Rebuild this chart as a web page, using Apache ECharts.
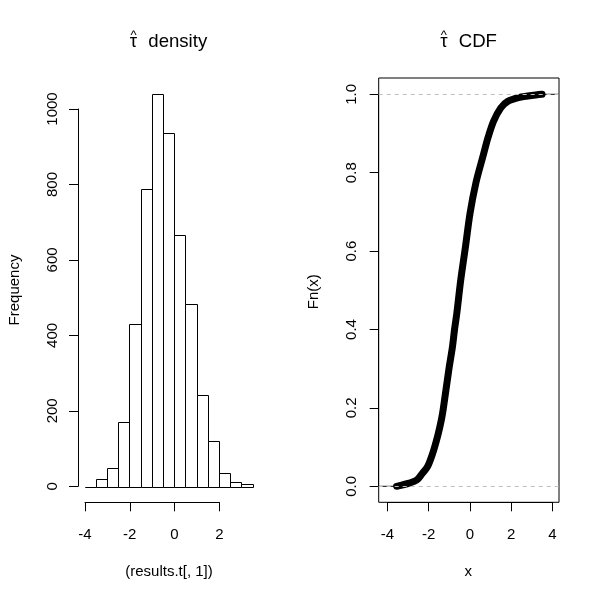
<!DOCTYPE html>
<html>
<head>
<meta charset="utf-8">
<script src="https://cdn.jsdelivr.net/npm/echarts@6/dist/echarts.min.js"></script>
<style>
html,body{margin:0;padding:0;background:#fff;}
#c{width:600px;height:600px;}
</style>
</head>
<body>
<div id="c"></div>
<script>
// ---- data ----
const histBreaks = [-4, -3.5, -3, -2.5, -2, -1.5, -1, -0.5, 0, 0.5, 1, 1.5, 2, 2.5, 3, 3.5];
const histCounts = [0, 19, 50, 170, 430, 790, 1040, 938, 668, 485, 242, 122, 37, 13, 8];

const ecdfX = [-3.55, -2.94, -2.57, -2.30, -2.05, -1.80, -1.55, -1.38, -1.28, -1.01, -0.84, -0.74, -0.63, -0.44, -0.21, 0.01, 0.30, 0.66, 0.88, 1.15, 1.50, 1.84, 2.41, 3.00, 3.50];
const ecdfF = [0.000, 0.008, 0.016, 0.033, 0.050, 0.084, 0.130, 0.169, 0.200, 0.300, 0.356, 0.400, 0.441, 0.526, 0.611, 0.696, 0.775, 0.846, 0.889, 0.931, 0.965, 0.982, 0.992, 0.997, 1.000];

const leftXTicks = [-4, -2, 0, 2];
const leftYTicks = [0, 200, 400, 600, 800, 1000];
const rightXTicks = [-4, -2, 0, 2, 4];
const rightYTicks = [0, 0.2, 0.4, 0.6, 0.8, 1.0];

const leftTitle = 'density';
const rightTitle = 'CDF';
const tauChar = 'τ';
const leftXName = '(results.t[, 1])';
const leftYName = 'Frequency';
const rightXName = 'x';
const rightYName = 'Fn(x)';

// ---- build ----
const FONT = "'Liberation Sans', Arial, sans-serif";
const histData = histCounts.map((c, i) => [histBreaks[i], histBreaks[i + 1], c]);
const ecdfData = ecdfX.map((x, i) => [x, ecdfF[i]]);

// plot-region extents (R style 4% padding)
const rXMin = -4.417, rXMax = 4.325, rYMin = -0.0408, rYMax = 1.0416;
const lXMin = -4.3, lXMax = 3.8, lYMin = -41.6, lYMax = 1081.6;

function tickAxis(ticks, extra, labelExtra) {
  return Object.assign({
    type: 'value',
    min: ticks[0],
    max: ticks[ticks.length - 1],
    interval: ticks[1] - ticks[0],
    axisLine: { show: true, onZero: false, lineStyle: { color: '#000', width: 1 } },
    axisTick: { show: true, length: 9, lineStyle: { color: '#000', width: 1 } },
    splitLine: { show: false },
    axisLabel: Object.assign({ color: '#000', fontSize: 15, fontFamily: FONT, showMinLabel: true, showMaxLabel: true, hideOverlap: false, formatter: v => String(v) }, labelExtra)
  }, extra);
}
function hiddenAxis(min, max, idx) {
  return { type: 'value', gridIndex: idx, min: min, max: max, show: false, splitLine: { show: false }, axisLine: { onZero: false } };
}

const chart = echarts.init(document.getElementById('c'), null, { renderer: 'canvas' });
const base = { containLabel: false, outerBoundsMode: 'none' };

const option = {
  animation: false,
  backgroundColor: '#fff',
  grid: [
    Object.assign({ left: 85, top: 109, width: 134.3, height: 377.3 }, base),        // 0 left axes
    Object.assign({ left: 78, top: 78.5, width: 181.3, height: 423.8 }, base),       // 1 left region
    Object.assign({ left: 387.3, top: 94.3, width: 165, height: 392 }, base),        // 2 right axes
    Object.assign({ left: 378.7, top: 78, width: 180.3, height: 424.3, show: true, borderColor: '#000', borderWidth: 1, backgroundColor: 'transparent' }, base) // 3 right box
  ],
  xAxis: [
    tickAxis(leftXTicks, { gridIndex: 0, offset: 16 }, { margin: 25 }),
    hiddenAxis(lXMin, lXMax, 1),
    tickAxis(rightXTicks, { gridIndex: 2, offset: 16 }, { margin: 25 }),
    hiddenAxis(rXMin, rXMax, 3)
  ],
  yAxis: [
    tickAxis(leftYTicks, { gridIndex: 0, offset: 7 }, { rotate: 90, margin: 18 }),
    hiddenAxis(lYMin, lYMax, 1),
    tickAxis(rightYTicks, { gridIndex: 2, offset: 8.6 }, { rotate: 90, margin: 19, formatter: v => v.toFixed(1) }),
    hiddenAxis(rYMin, rYMax, 3)
  ],
  series: [
    {
      type: 'custom',
      xAxisIndex: 1, yAxisIndex: 1,
      data: histData,
      encode: { x: [0, 1], y: 2 },
      clip: false,
      renderItem: function (params, api) {
        const p0 = api.coord([api.value(0), api.value(2)]);
        const p1 = api.coord([api.value(1), 0]);
        const x0 = Math.round(p0[0]) + 0.5, x1 = Math.round(p1[0]) + 0.5;
        const y0 = Math.round(p0[1]) + 0.5, y1 = Math.round(p1[1]) + 0.5;
        return {
          type: 'rect',
          shape: { x: x0, y: y0, width: x1 - x0, height: y1 - y0 },
          style: { fill: '#fff', stroke: '#000', lineWidth: 1 }
        };
      },
      z: 2
    },
    {
      type: 'line',
      xAxisIndex: 3, yAxisIndex: 3,
      data: [[rXMin, ecdfF[0]], [ecdfX[0], ecdfF[0]]],
      symbol: 'none',
      lineStyle: { color: '#000', width: 1 },
      z: 2, silent: true
    },
    {
      type: 'line',
      xAxisIndex: 3, yAxisIndex: 3,
      data: [[ecdfX[ecdfX.length - 1], ecdfF[ecdfF.length - 1]], [rXMax, ecdfF[ecdfF.length - 1]]],
      symbol: 'none',
      lineStyle: { color: '#000', width: 1 },
      z: 2, silent: true
    },
    {
      type: 'line',
      xAxisIndex: 3, yAxisIndex: 3,
      data: ecdfData,
      symbol: 'none',
      smooth: 0.3,
      lineStyle: { color: '#000', width: 7, cap: 'round', join: 'round' },
      z: 3, silent: true
    },
    {
      type: 'line',
      xAxisIndex: 3, yAxisIndex: 3,
      data: [],
      symbol: 'none',
      z: 4, silent: true,
      markLine: {
        silent: true,
        symbol: 'none',
        label: { show: false },
        lineStyle: { color: '#bebebe', width: 1, type: [4, 4] },
        data: [{ yAxis: rightYTicks[0] }, { yAxis: rightYTicks[rightYTicks.length - 1] }]
      }
    }
  ],
  graphic: [
    // titles
    { type: 'text', x: 133.5, y: 42, style: { text: tauChar, font: '18.6px ' + FONT, fill: '#000', textAlign: 'center', textVerticalAlign: 'middle' } },
    { type: 'text', x: 133.5, y: 35, style: { text: '^', font: '13px ' + FONT, fill: '#000', textAlign: 'center', textVerticalAlign: 'middle' } },
    { type: 'text', x: 148.3, y: 42, style: { text: leftTitle, font: '18.6px ' + FONT, fill: '#000', textAlign: 'left', textVerticalAlign: 'middle' } },
    { type: 'text', x: 443.8, y: 42, style: { text: tauChar, font: '18.6px ' + FONT, fill: '#000', textAlign: 'center', textVerticalAlign: 'middle' } },
    { type: 'text', x: 443.8, y: 35, style: { text: '^', font: '13px ' + FONT, fill: '#000', textAlign: 'center', textVerticalAlign: 'middle' } },
    { type: 'text', x: 458.7, y: 42, style: { text: rightTitle, font: '18.6px ' + FONT, fill: '#000', textAlign: 'left', textVerticalAlign: 'middle' } },
    // axis names
    { type: 'text', x: 169, y: 571.5, style: { text: leftXName, font: '15px ' + FONT, fill: '#000', textAlign: 'center', textVerticalAlign: 'middle' } },
    { type: 'text', x: 468.3, y: 571.5, style: { text: rightXName, font: '15px ' + FONT, fill: '#000', textAlign: 'center', textVerticalAlign: 'middle' } },
    { type: 'text', x: 15, y: 290, rotation: Math.PI / 2, style: { text: leftYName, font: '15px ' + FONT, fill: '#000', textAlign: 'center', textVerticalAlign: 'middle' } },
    { type: 'text', x: 314, y: 291.7, rotation: Math.PI / 2, style: { text: rightYName, font: '15px ' + FONT, fill: '#000', textAlign: 'center', textVerticalAlign: 'middle' } }
  ]
};
chart.setOption(option);
</script>
</body>
</html>
